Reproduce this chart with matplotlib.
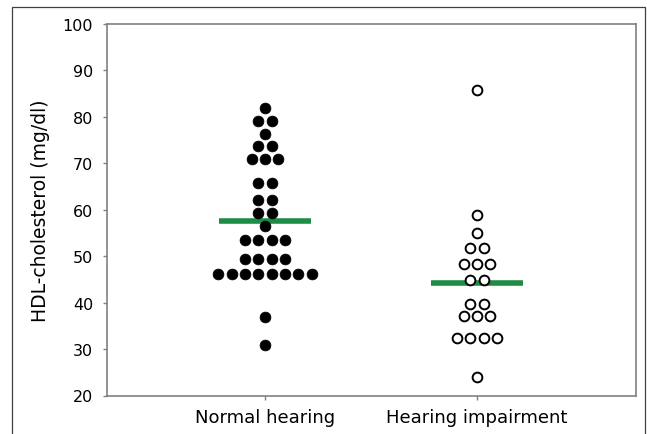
import numpy as np
import matplotlib
matplotlib.use("Agg")
import matplotlib.pyplot as plt
from matplotlib.patches import Rectangle

categories = ["Normal hearing", "Hearing impairment"]

# row values (mg/dl) and number of dots in each row
normal_rows = [82.0, 79.2, 76.3, 73.8, 70.9, 65.8, 62.2, 59.4, 56.4, 53.5, 49.4, 46.2, 36.8, 30.9]
normal_counts = [1, 2, 1, 2, 3, 2, 2, 2, 1, 4, 4, 8, 1, 1]

impair_rows = [85.8, 58.9, 55.0, 51.8, 48.3, 44.9, 39.7, 37.2, 32.4, 24.0]
impair_counts = [1, 1, 1, 2, 3, 2, 2, 3, 4, 1]

yticks = [20, 30, 40, 50, 60, 70, 80, 90, 100]

normal_values = np.repeat(normal_rows, normal_counts)
impair_values = np.repeat(impair_rows, impair_counts)

fig = plt.figure(figsize=(6.47, 4.35), dpi=100)
ax = fig.add_axes([107/647, 1 - 396.5/435, (636-107)/647, (396.5-25)/435])

step = 0.0628


def swarm(rows, counts, center):
    xs, ys = [], []
    for v, n in zip(rows, counts):
        offs = (np.arange(n) - (n - 1) / 2) * step
        xs.extend(center + offs)
        ys.extend([v] * n)
    return np.array(xs), np.array(ys)


x1, y1 = swarm(normal_rows, normal_counts, 1)
x2, y2 = swarm(impair_rows, impair_counts, 2)

green = "#1e8c45"
half = 0.218
ax.plot([1 - half, 1 + half], [normal_values.mean()] * 2, color=green, lw=4, solid_capstyle="butt", zorder=2)
ax.plot([2 - half, 2 + half], [impair_values.mean()] * 2, color=green, lw=4, solid_capstyle="butt", zorder=2)

ax.plot(x1, y1, "o", ms=7.8, mfc="black", mec="black", mew=0.5, ls="none", zorder=3)
ax.plot(x2, y2, "o", ms=7.0, mfc="white", mec="black", mew=1.4, ls="none", zorder=3)

ax.set_xlim(0.255, 2.75)
ax.set_ylim(20, 100)
ax.set_yticks(yticks)
ax.set_xticks([1, 2])
ax.set_xticklabels(categories)

for s in ax.spines.values():
    s.set_color("#808080")
    s.set_linewidth(1.2)

ax.tick_params(axis="y", direction="out", length=3, width=1, color="#808080", pad=7, labelsize=11.5)
ax.tick_params(axis="x", direction="out", length=3, width=1, color="#808080", pad=6, labelsize=13)
ax.set_ylabel("HDL-cholesterol (mg/dl)", fontsize=13.5, labelpad=9)

# outer frame
fig.patches.append(Rectangle((12/647, -0.05), (645-12)/647, 1 - 8/435 + 0.05,
                             transform=fig.transFigure, fill=False,
                             edgecolor="#404040", lw=0.9, clip_on=False))

fig.savefig("out.png", dpi=100)
